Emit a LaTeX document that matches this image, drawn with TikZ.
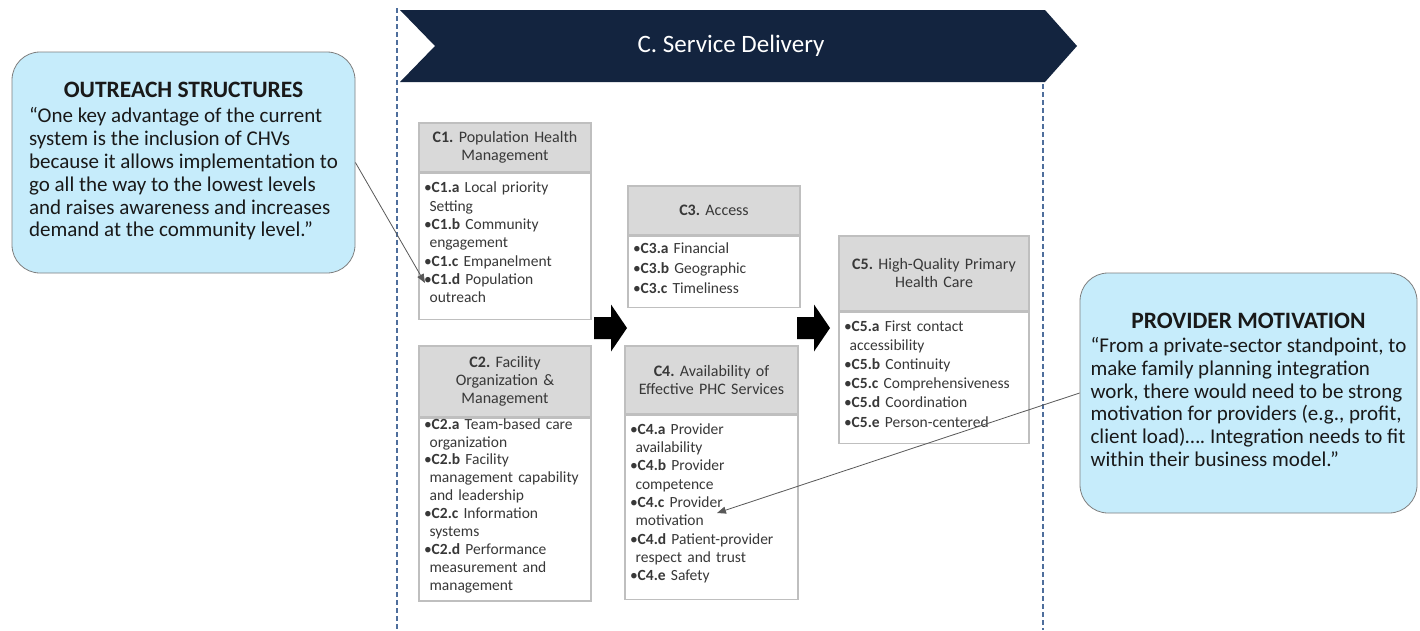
\documentclass[tikz,border=0pt]{standalone}
\usepackage{fontspec}
\setmainfont{Carlito}
\frenchspacing
\usetikzlibrary{positioning, arrows.meta, calc}

\definecolor{sdNavy}{HTML}{13243F}
\definecolor{sdDash}{HTML}{4E6E9C}
\definecolor{sdHead}{HTML}{D9D9D9}
\definecolor{sdFrame}{HTML}{BFBFBF}
\definecolor{sdText}{HTML}{383838}
\definecolor{sdQuote}{HTML}{C6ECFB}
\definecolor{sdEdge}{HTML}{7F7F7F}

% one bullet line of a component box, wrapped lines hang under the label
\newcommand{\pitem}[2]{\noindent\hangindent=0.36em\hangafter=1\textbullet\textbf{#1} #2\par}

\tikzset{
  headbox/.style={draw=sdFrame, line width=1.6pt, fill=sdHead, align=center,
    inner sep=0pt, text=sdText, font=\fontsize{16}{18.3}\selectfont},
  bodybox/.style={draw=sdFrame, line width=1.6pt, fill=white, align=left,
    inner xsep=5pt, inner ysep=0pt, text=sdText, font=\fontsize{15.5}{18.3}\selectfont,
    execute at end node={\vspace{8pt}}},
  quotebox/.style={draw=sdEdge, line width=0.8pt, fill=sdQuote, rounded corners=28pt,
    inner sep=0pt, text=black!90, font=\fontsize{21}{22.8}\selectfont},
  pointer/.style={draw=black!65, line width=0.8pt, -{Triangle[length=9pt,width=7pt]}},
  rule/.style={sdDash, line width=1.6pt, dash pattern=on 5pt off 3pt},
}

\begin{document}
\begin{tikzpicture}[x=1pt, y=-1pt]
  \fill[white] (0,0) rectangle (1420,630);
  \useasboundingbox (0,0) rectangle (1420,630);

  % dashed frame of the delivery column
  \draw[rule] (397,8) -- (397,630);
  \draw[rule] (1043,84) -- (1043,630);

  % chevron banner
  \fill[sdNavy] (400,10) -- (1045,10) -- (1077,46) -- (1045,82) -- (400,82) -- (435,46) -- cycle;
  \node[text=white, font=\fontsize{25}{28}\selectfont] (banner) at (731,46) {C. Service Delivery};

  % C1
  \node[headbox, anchor=north, minimum width=172, text width=162, minimum height=49]
    (c1h) at (505,122) {\textbf{C1.} Population Health\\Management};
  \node[bodybox, below=0pt of c1h, text width=162, minimum width=172, minimum height=146]
    (c1b) {\pitem{C1.a}{Local priority\newline Setting}
           \pitem{C1.b}{Community\newline engagement}
           \pitem{C1.c}{Empanelment}
           \pitem{C1.d}{Population\newline outreach}};

  % C2
  \node[headbox, anchor=north, minimum width=172, text width=162, minimum height=71]
    (c2h) at (505,345) {\textbf{C2.} Facility\\Organization \&\\Management};
  \node[bodybox, below=0pt of c2h, text width=162, minimum width=172, minimum height=182,
    font=\fontsize{15.5}{17.9}\selectfont, execute at end node={}]
    (c2b) {\pitem{C2.a}{Team-based care\newline organization}
           \pitem{C2.b}{Facility\newline management capability\newline and leadership}
           \pitem{C2.c}{Information\newline systems}
           \pitem{C2.d}{Performance\newline measurement and\newline management}};

  % C3
  \node[headbox, anchor=north, minimum width=172, text width=162, minimum height=49]
    (c3h) at (714,185) {\textbf{C3.} Access};
  \node[bodybox, below=0pt of c3h, text width=162, minimum width=172, minimum height=71,
    font=\fontsize{15.5}{20}\selectfont]
    (c3b) {\pitem{C3.a}{Financial}
           \pitem{C3.b}{Geographic}
           \pitem{C3.c}{Timeliness}};

  % C4
  \node[headbox, anchor=north, minimum width=173, text width=163, minimum height=68]
    (c4h) at (711.5,345) {\textbf{C4.} Availability of\\Effective PHC Services};
  \node[bodybox, below=0pt of c4h, text width=163, minimum width=173, minimum height=184]
    (c4b) {\pitem{C4.a}{Provider\newline availability}
           \pitem{C4.b}{Provider\newline competence}
           \pitem{C4.c}{Provider\newline motivation}
           \pitem{C4.d}{Patient-provider\newline respect and trust}
           \pitem{C4.e}{Safety}};

  % C5
  \node[headbox, anchor=north, minimum width=190, text width=180, minimum height=75]
    (c5h) at (934,235) {\textbf{C5.} High-Quality Primary\\Health Care};
  \node[bodybox, below=0pt of c5h, text width=180, minimum width=190, minimum height=131,
    font=\fontsize{15.5}{19.2}\selectfont]
    (c5b) {\pitem{C5.a}{First contact\newline accessibility}
           \pitem{C5.b}{Continuity}
           \pitem{C5.c}{Comprehensiveness}
           \pitem{C5.d}{Coordination}
           \pitem{C5.e}{Person-centered}};

  % block arrows between the columns
  \coordinate (arrA) at (594,328);
  \coordinate (arrB) at (797,328);
  \foreach \a in {arrA, arrB}
    \fill[black] (\a) ++(0,-11) -- ++(17,0) -- ++(0,-12.5) -- ++(16,23.5)
      -- ++(-16,23.5) -- ++(0,-12.5) -- ++(-17,0) -- cycle;

  % quote callouts
  \node[quotebox, minimum width=343, minimum height=221] (q1) at (183.5,162.5) {%
    \begin{tabular}{@{}l@{}}
      \multicolumn{1}{@{}c@{}}{\fontsize{23.5}{26}\selectfont\bfseries OUTREACH STRUCTURES}\\[3pt]
      “One key advantage of the current\\
      system is the inclusion of CHVs\\
      because it allows implementation to\\
      go all the way to the lowest levels\\
      and raises awareness and increases\\
      demand at the community level.”
    \end{tabular}};
  \node[quotebox, minimum width=337, minimum height=240] (q2) at (1248.5,393) {%
    \begin{tabular}{@{}l@{}}
      \multicolumn{1}{@{}c@{}}{\fontsize{23.5}{26}\selectfont\bfseries PROVIDER MOTIVATION}\\[1pt]
      “From a private-sector standpoint, to\\
      make family planning integration\\
      work, there would need to be strong\\
      motivation for providers (e.g., profit,\\
      client load)…. Integration needs to fit\\
      within their business model.”
    \end{tabular}};

  % pointers from the quotes to the items they refer to
  \coordinate (c1d) at (425,283);
  \coordinate (c4c) at (717,513);
  \draw[pointer] (q1.east) -- (c1d);
  \draw[pointer] (q2.west) -- (c4c);
\end{tikzpicture}
\end{document}
